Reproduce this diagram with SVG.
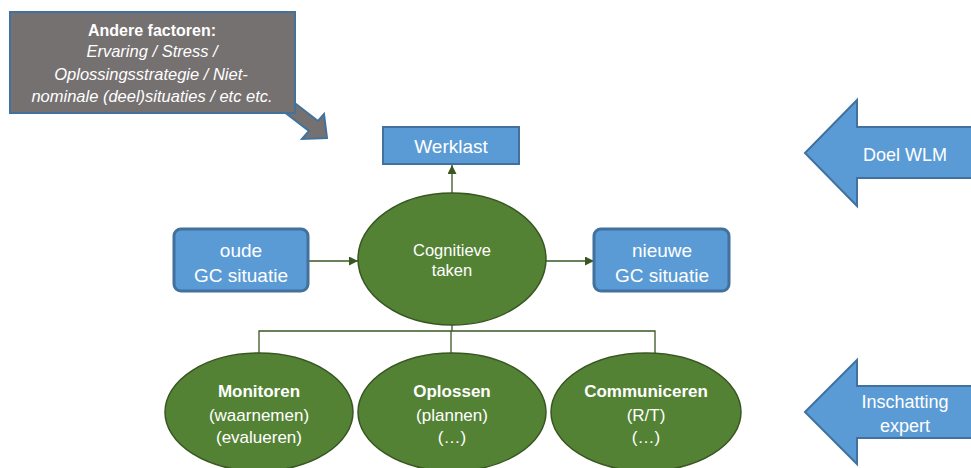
<svg xmlns="http://www.w3.org/2000/svg" width="971" height="468" viewBox="0 0 971 468">
<defs>
<style>
text{font-family:"Liberation Sans","Open Sans",Arial,sans-serif;fill:#ffffff;text-anchor:middle}
.blue{fill:#5B9BD5;stroke:#41719C;stroke-width:2}
.bluethick{fill:#5B9BD5;stroke:#41719C;stroke-width:3}
.green{fill:#548235;stroke:#385723;stroke-width:1.5}
.conn{stroke:#385723;stroke-width:1.3;fill:none}
.gray{fill:#767171;stroke:#41719C;stroke-width:2}
</style>
<marker id="ah" viewBox="0 0 10 10" refX="10" refY="5" markerWidth="9" markerHeight="9" markerUnits="userSpaceOnUse" orient="auto">
<path d="M0,0 L10,5 L0,10 z" fill="#385723"/>
</marker>
</defs>
<rect width="971" height="468" fill="#ffffff"/>

<g id="andere-factoren">
<polygon class="gray" points="283,94 318,121 324,114 327,138 302,139 309,131 274,104"/>
<rect class="gray" x="10" y="12" width="285" height="101"/>
<text x="152" y="36" font-size="16" font-weight="bold" fill="#F2F2F2">Andere factoren:</text>
<text x="152" y="57" font-size="16.5" font-style="italic" fill="#F2F2F2">Ervaring / Stress /</text>
<text x="151" y="80" font-size="16.5" font-style="italic" fill="#F2F2F2">Oplossingsstrategie / Niet-</text>
<text x="152" y="102" font-size="16.5" font-style="italic" fill="#F2F2F2">nominale (deel)situaties / etc etc.</text>
</g>

<g id="connectors">
<line class="conn" x1="452" y1="193" x2="452" y2="165" marker-end="url(#ah)"/>
<line class="conn" x1="308" y1="261" x2="358" y2="261" marker-end="url(#ah)"/>
<line class="conn" x1="545" y1="261" x2="594" y2="261" marker-end="url(#ah)"/>
<polyline class="conn" points="452,325 452,331"/>
<polyline class="conn" points="259,354 259,331 655,331 655,354"/>
<line class="conn" x1="451" y1="331" x2="451" y2="353"/>
</g>

<g id="werklast">
<rect class="blue" x="383" y="127" width="136" height="37"/>
<text x="451" y="153" font-size="19">Werklast</text>
</g>

<g id="oude">
<rect class="bluethick" x="174" y="229" width="134" height="62" rx="7"/>
<text x="241" y="257" font-size="19">oude</text>
<text x="241" y="282" font-size="19">GC situatie</text>
</g>

<g id="nieuwe">
<rect class="bluethick" x="594" y="229" width="135" height="62" rx="7"/>
<text x="662" y="257" font-size="19">nieuwe</text>
<text x="662" y="282" font-size="19">GC situatie</text>
</g>

<g id="cognitieve">
<ellipse class="green" cx="452" cy="259" rx="94" ry="66"/>
<text x="452" y="256" font-size="16.5">Cognitieve</text>
<text x="452" y="276" font-size="16.5">taken</text>
</g>

<g id="monitoren">
<ellipse class="green" cx="259" cy="412" rx="94" ry="59"/>
<text x="259" y="397" font-size="17" font-weight="bold">Monitoren</text>
<text x="259" y="421" font-size="17">(waarnemen)</text>
<text x="259" y="443" font-size="17">(evalueren)</text>
</g>

<g id="oplossen">
<ellipse class="green" cx="452" cy="412" rx="94" ry="59"/>
<text x="452" y="397" font-size="17" font-weight="bold">Oplossen</text>
<text x="452" y="421" font-size="17">(plannen)</text>
<text x="452" y="443" font-size="17">(…)</text>
</g>

<g id="communiceren">
<ellipse class="green" cx="646" cy="412" rx="95" ry="59"/>
<text x="646" y="397" font-size="17" font-weight="bold">Communiceren</text>
<text x="646" y="421" font-size="17">(R/T)</text>
<text x="646" y="443" font-size="17">(…)</text>
</g>

<g id="doel-wlm">
<polygon class="blue" points="805,153 857,100 857,127 975,127 975,178 857,178 857,206"/>
<text x="905" y="161" font-size="18">Doel WLM</text>
</g>

<g id="inschatting">
<polygon class="blue" points="805,412 857,360 857,386 975,386 975,438 857,438 857,464"/>
<text x="905" y="408" font-size="18">Inschatting</text>
<text x="905" y="432" font-size="18">expert</text>
</g>
</svg>
